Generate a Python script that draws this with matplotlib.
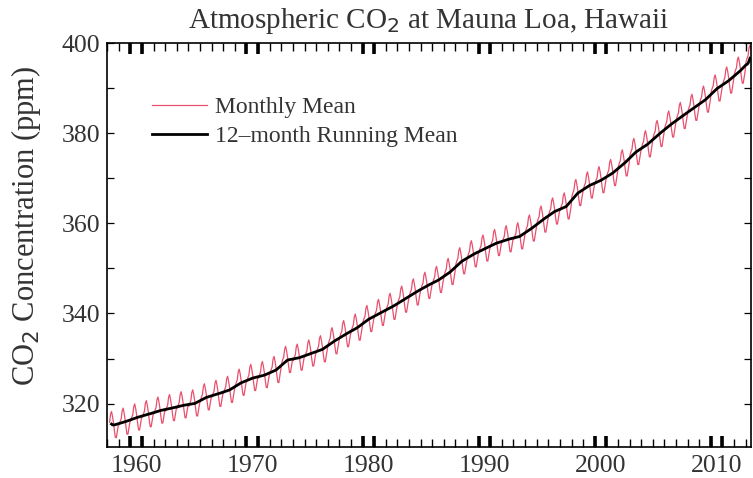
import numpy as np
import pandas as pd
import matplotlib
matplotlib.use("Agg")
import matplotlib.pyplot as plt

# Annual means at Mauna Loa (ppm), 1958-2013
years = np.arange(1958, 2014)
annual_mean = [
    315.23, 315.98, 316.91, 317.64, 318.45, 318.99, 319.62, 320.04, 321.38, 322.16,
    323.04, 324.62, 325.68, 326.32, 327.45, 329.68, 330.18, 331.11, 332.04, 333.83,
    335.40, 336.84, 338.75, 340.11, 341.45, 343.05, 344.65, 346.12, 347.42, 349.19,
    351.57, 353.12, 354.39, 355.61, 356.45, 357.10, 358.83, 360.82, 362.61, 363.73,
    366.70, 368.38, 369.55, 371.14, 373.28, 375.80, 377.52, 379.80, 381.90, 383.79,
    385.60, 387.43, 389.90, 391.65, 393.85, 396.52,
]
# monthly departure from the annual mean (Jan..Dec)
seasonal = [-0.63, 0.11, 0.65, 2.43, 3.03, 1.97, 0.58, -1.22, -2.74, -2.77, -1.34, -0.07]

first_month = 3   # March 1958
last_month = 6    # June 2013

t, co2 = [], []
for yr, base in zip(years, annual_mean):
    for m in range(1, 13):
        if yr == years[0] and m < first_month:
            continue
        if yr == years[-1] and m > last_month:
            continue
        t.append(yr + (m - 0.5) / 12)
        co2.append(base + seasonal[m - 1])
t = np.array(t)
co2 = pd.Series(co2)

# 12-month running mean (window shrinks near the ends)
run = co2.rolling(12, center=True, min_periods=8).mean()

plt.rcParams["font.family"] = ["Liberation Serif", "DejaVu Serif"]
text_col = "#333333"
xlim = (1957.98, 2013.44)
decades = np.arange(1960, 2011, 10)

fig = plt.figure(figsize=(7.53, 4.78), dpi=100)
rect = [0.142, 0.065, 0.855, 0.845]
ax = fig.add_axes(rect)

ax.plot(t, co2, color="#e8506e", lw=0.9, label="Monthly Mean")
ax.plot(t, run, color="black", lw=2.0, label="12\u2013month Running Mean")

ax.set_xlim(xlim)
ax.set_ylim(310.4, 400)

# decade labels only on the main axes
ax.set_xticks(decades + 0.5)
ax.set_xticklabels([str(d) for d in decades])
ax.tick_params(axis="x", length=0, pad=6)
ax.set_yticks(np.arange(320, 401, 20))
ax.set_yticks(np.arange(320, 401, 10), minor=True)
ax.tick_params(axis="y", which="both", length=5, width=0.9, direction="in",
               left=True, right=True, pad=5)
ax.tick_params(labelsize=18.5, labelcolor=text_col)
for s in ax.spines.values():
    s.set_linewidth(1.2)

# overlays: thin yearly ticks, heavy pairs at each decade
for locs, length, width in [(years, 5.5, 1.0),
                            (np.concatenate([decades, decades + 1]), 8, 2.6)]:
    ov = fig.add_axes(rect, frameon=False)
    ov.set_xlim(xlim)
    ov.set_yticks([])
    ov.set_xticks(locs)
    ov.set_xticklabels([])
    ov.tick_params(axis="x", length=length, width=width, direction="in",
                   top=True, bottom=True, color="black")

ax.set_ylabel("CO$_2$ Concentration (ppm)", fontsize=22, color=text_col)
ax.yaxis.set_label_coords(-0.1, 0.547)
ax.set_title("Atmospheric CO$_2$ at Mauna Loa, Hawaii", fontsize=21, color=text_col, pad=11)

leg = ax.legend(loc="upper left", bbox_to_anchor=(0.07, 0.868), frameon=False,
                borderpad=0, borderaxespad=0, fontsize=17, handlelength=2.35,
                handletextpad=0.3, labelspacing=0.32)
for txt in leg.get_texts():
    txt.set_color(text_col)

fig.savefig("out.png", dpi=100)
